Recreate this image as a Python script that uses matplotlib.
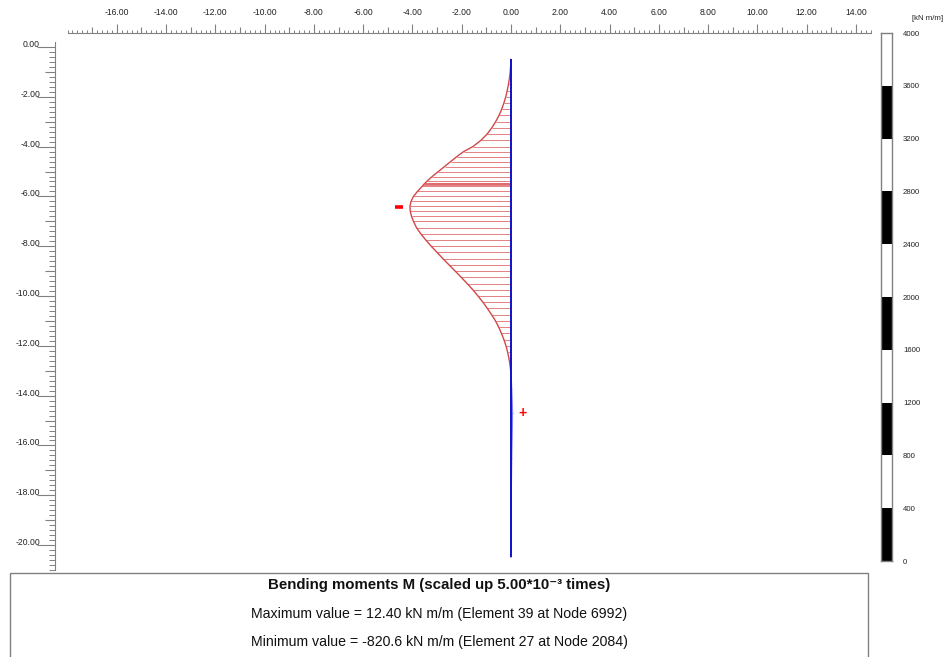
import numpy as np
import matplotlib
matplotlib.use("Agg")
import matplotlib.pyplot as plt
from matplotlib.patches import Rectangle
from matplotlib.ticker import FixedLocator

plt.rcParams['font.family'] = ['Liberation Sans', 'DejaVu Sans']

# ---- data ----
depth = [-0.50, -0.75, -1.00, -1.25, -1.50, -1.75, -2.00, -2.25, -2.50, -2.75,
         -3.00, -3.25, -3.50, -3.75, -4.00, -4.20, -4.40, -4.60, -4.80, -5.00,
         -5.20, -5.40, -5.45, -5.48, -5.50, -5.52, -5.55, -5.60, -5.80, -6.00,
         -6.20, -6.40, -6.60, -6.80, -7.00, -7.25, -7.50, -7.75, -8.00, -8.25,
         -8.50, -8.75, -9.00, -9.25, -9.50, -9.75, -10.00, -10.25, -10.50, -10.75,
         -11.00, -11.25, -11.50, -11.75, -12.00, -12.25, -12.50, -12.75, -13.00,
         -13.25, -13.75, -14.25, -14.70, -15.25, -15.75, -16.50, -17.50, -18.50,
         -19.50, -20.50]
moment = [0, -3, -7, -13, -21, -31, -43, -58, -76, -98,
          -125, -157, -195, -245, -310, -385, -440, -490, -540, -590,
          -640, -685, -695, -700, -705, -709, -714, -722, -760, -792,
          -812, -820.6, -818, -808, -792, -768, -733, -692, -648, -600,
          -553, -503, -453, -404, -356, -310, -268, -228, -192, -158,
          -126, -100, -78, -58, -41, -28, -17, -9, -3,
          2, 6, 10, 12.4, 11, 9, 6, 3.5, 1.8,
          0.6, 0]
scale = 5.00e-3
beam_top, beam_bottom = -0.52, -20.44
cbar_bounds = [0, 400, 800, 1200, 1600, 2000, 2400, 2800, 3200, 3600, 4000]
cbar_colors = ['black', 'white'] * 5
max_val, max_elem, max_node = 12.40, 39, 6992
min_val, min_elem, min_node = -820.6, 27, 2084

W, H = 952, 657
fig = plt.figure(figsize=(W / 100, H / 100), dpi=100)

def fx(px):
    return px / W

def fy(py):
    return 1 - py / H

ax = fig.add_axes([fx(55), fy(570), fx(872) - fx(55), fy(33) - fy(570)])
ax.set_xlim(-18.51, 14.65)
ax.set_ylim(-21.0, 0.562)

d = np.array(depth)
m = np.array(moment) * scale

# hatch lines
for yi, xi in zip(d, m):
    col = '#e06a6a' if xi < 0 else '#9090ff'
    ax.plot([0, xi], [yi, yi], color=col, lw=0.7, alpha=0.85, solid_capstyle='butt')
neg = d >= -13.1
ax.plot(m[neg], d[neg], color='#d04848', lw=1.0)
ax.plot(m[~neg], d[~neg], color='#8080ff', lw=0.8)

# beam
ax.plot([0, 0], [beam_top, beam_bottom], color='#1010c8', lw=1.4)

# min / max markers
imin = int(np.argmin(m))
imax = int(np.argmax(m))
ax.plot([m[imin] - 0.45], [d[imin] - 0.02], marker='_', markersize=6,
        markeredgewidth=2.6, color='#ff0000')
ax.text(m[imax] + 0.40, d[imax], '+', color='#ff0000', fontsize=10,
        fontweight='bold', ha='center', va='center')

# axes styling (rulers)
for s in ['right', 'bottom']:
    ax.spines[s].set_visible(False)
ax.spines['top'].set_color('#808080')
ax.spines['left'].set_color('#808080')
ax.spines['top'].set_bounds(-17.98, 14.6)
ax.spines['left'].set_bounds(-21.0, 0.2)

ax.xaxis.set_ticks_position('top')
ax.xaxis.set_major_locator(FixedLocator(np.arange(-16, 15, 2)))
ax.xaxis.set_minor_locator(FixedLocator(np.round(np.arange(-18, 14.61, 0.2), 2)))
ax.set_xticklabels([f'{v:.2f}' for v in np.arange(-16, 15, 2)])
ax.tick_params(axis='x', which='major', length=6.5, width=0.8, color='#808080',
               labelsize=6.2, pad=5, labelcolor='#222222')
ax.tick_params(axis='x', which='minor', length=2.2, width=0.7, color='#808080')

yt = np.arange(0, -21, -2)
ax.yaxis.set_major_locator(FixedLocator(yt))
ax.yaxis.set_minor_locator(FixedLocator(np.round(np.arange(0, -21.01, -0.2), 2)))
ax.set_yticklabels([f'{v:.2f}' for v in yt])
ax.tick_params(axis='y', which='major', length=13, width=0.8, color='#808080',
               labelsize=6.2, pad=-2.2, labelcolor='#222222')
ax.tick_params(axis='y', which='minor', length=4.2, width=0.7, color='#808080')
for lab in ax.get_yticklabels():
    lab.set_verticalalignment('baseline')

# medium ticks at odd units
secx = ax.secondary_xaxis('top')
secx.set_xticks(np.arange(-17, 15, 2))
secx.set_xticklabels([])
secx.tick_params(length=4, width=0.8, color='#808080')
secx.spines['top'].set_visible(False)
secy = ax.secondary_yaxis('left')
secy.set_yticks(np.arange(-1, -21, -2))
secy.set_yticklabels([])
secy.tick_params(length=7.5, width=0.8, color='#808080')
secy.spines['left'].set_visible(False)

# colour bar legend
cax = fig.add_axes([fx(881), fy(561), fx(892) - fx(881), fy(33) - fy(561)])
for i in range(len(cbar_bounds) - 1):
    cax.bar(0.5, cbar_bounds[i + 1] - cbar_bounds[i], bottom=cbar_bounds[i],
            width=1, color=cbar_colors[i], edgecolor='none')
cax.set_xlim(0, 1)
cax.set_ylim(cbar_bounds[0], cbar_bounds[-1])
cax.set_xticks([])
cax.yaxis.tick_right()
cax.set_yticks(cbar_bounds)
cax.set_yticklabels([str(b) for b in cbar_bounds])
cax.tick_params(axis='y', length=0, pad=8, labelsize=5.6, labelcolor='#222222')
for s in cax.spines.values():
    s.set_color('#808080')
    s.set_linewidth(1.0)
fig.text(fx(928), fy(18), '[kN m/m]', fontsize=5.6, ha='center', va='center',
         color='#222222')

# info box
fig.patches.append(Rectangle((fx(10), fy(660)), fx(868) - fx(10), fy(573) - fy(660),
                             transform=fig.transFigure, facecolor='white',
                             edgecolor='#808080', lw=1.0))
fig.text(fx(439), fy(585), 'Bending moments M (scaled up 5.00*10\u207b\u00b3 times)',
         fontsize=10.8, fontweight='bold', ha='center', va='center', color='#111111')
fig.text(fx(439), fy(614),
         f'Maximum value = {max_val:.2f} kN m/m (Element {max_elem} at Node {max_node})',
         fontsize=10.2, ha='center', va='center', color='#111111')
fig.text(fx(439), fy(642),
         f'Minimum value = {min_val:.1f} kN m/m (Element {min_elem} at Node {min_node})',
         fontsize=10.2, ha='center', va='center', color='#111111')

fig.savefig('out.png', dpi=100)
